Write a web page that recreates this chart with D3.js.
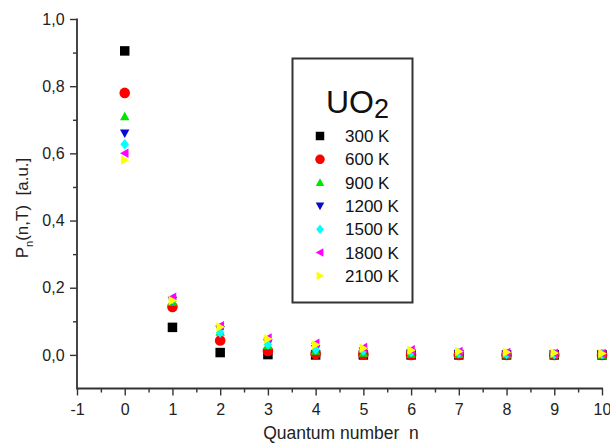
<!DOCTYPE html>
<html><head><meta charset="utf-8">
<script src="https://cdn.jsdelivr.net/npm/d3@7"></script>
<style>body{margin:0;background:#fff}svg{display:block}text{font-family:"Liberation Sans",Arial,sans-serif}</style>
</head><body>
<svg id="c" width="610" height="443"></svg>
<script>
const quantumN = [0,1,2,3,4,5,6,7,8,9,10];
const seriesNames = ["300 K","600 K","900 K","1200 K","1500 K","1800 K","2100 K"];
const p300  = [0.905,0.082,0.007,0.001,0.000,0.000,0.000,0.000,0.000,0.000,0.000];
const p600  = [0.780,0.143,0.043,0.012,0.003,0.001,0.000,0.000,0.000,0.000,0.000];
const p900  = [0.710,0.158,0.068,0.028,0.012,0.006,0.003,0.002,0.001,0.001,0.000];
const p1200 = [0.660,0.162,0.075,0.035,0.018,0.010,0.006,0.004,0.002,0.002,0.001];
const p1500 = [0.627,0.165,0.066,0.031,0.016,0.012,0.008,0.005,0.003,0.002,0.002];
const p1800 = [0.600,0.172,0.087,0.050,0.035,0.022,0.015,0.010,0.007,0.005,0.004];
const p2100 = [0.580,0.162,0.083,0.047,0.030,0.020,0.014,0.010,0.008,0.006,0.004];
const xTicks = [-1,0,1,2,3,4,5,6,7,8,9,10];
const yTicks = [0,0.2,0.4,0.6,0.8,1.0];

const seriesVals = [p300,p600,p900,p1200,p1500,p1800,p2100];
const colors = ["#000000","#ff0000","#00e600","#0a0ad0","#00ffff","#ff00ff","#ffff00"];
const shapes = ["square","circle","up","down","diamond","left","right"];

const svg = d3.select("#c");
const x = d3.scaleLinear().domain([-1,10]).range([77,602]);
const y = d3.scaleLinear().domain([-0.1,1.0]).range([388.5,19]);
const fmt = d => d3.format(".1f")(d).replace(".",",");

function markerPath(shape, s){
  const h=s/2;
  switch(shape){
    case "square": return `M${-h},${-h}h${s}v${s}h${-s}Z`;
    case "circle": return d3.symbol(d3.symbolCircle, Math.PI*h*h*1.25)();
    case "up": return `M0,${-h}L${h},${h*0.8}L${-h},${h*0.8}Z`;
    case "down": return `M0,${h}L${h},${-h*0.8}L${-h},${-h*0.8}Z`;
    case "diamond": return `M0,${-h*1.1}L${h*0.9},0L0,${h*1.1}L${-h*0.9},0Z`;
    case "left": return `M${-h},0L${h*0.8},${-h}L${h*0.8},${h}Z`;
    case "right": return `M${h},0L${-h*0.8},${-h}L${-h*0.8},${h}Z`;
  }
}

// axes
const axCol="#333";
const gx = svg.append("g").attr("transform","translate(0,388.5)")
  .call(d3.axisBottom(x).tickValues(xTicks).tickFormat(d=>String(d)).tickSize(7).tickSizeOuter(0));
const gxm = svg.append("g").attr("transform","translate(0,388.5)")
  .call(d3.axisBottom(x).tickValues(d3.range(-0.5,10,1)).tickFormat("").tickSize(4).tickSizeOuter(0));
const gy = svg.append("g").attr("transform","translate(77,0)")
  .call(d3.axisLeft(y).tickValues(yTicks).tickFormat(fmt).tickSize(7).tickSizeOuter(0));
const gym = svg.append("g").attr("transform","translate(77,0)")
  .call(d3.axisLeft(y).tickValues([0.1,0.3,0.5,0.7,0.9]).tickFormat("").tickSize(4).tickSizeOuter(0));
[gx,gxm,gy,gym].forEach(g=>{
  g.selectAll("path.domain").remove();
  g.selectAll(".tick line").attr("stroke",axCol).attr("stroke-width",1.4);
  g.selectAll("text").attr("fill","#222").style("font-size","16px");
});
gx.selectAll("text").attr("dy","1.0em");
gy.selectAll("text").attr("dx","-0.15em");
svg.append("line").attr("x1",77).attr("x2",603).attr("y1",388.5).attr("y2",388.5).attr("stroke",axCol).attr("stroke-width",1.8);
svg.append("line").attr("x1",77).attr("x2",77).attr("y1",18.5).attr("y2",389.4).attr("stroke",axCol).attr("stroke-width",1.8);

// points
seriesVals.forEach((vals,i)=>{
  svg.append("g").selectAll("path").data(quantumN.map((n,j)=>({n,v:vals[j]}))).join("path")
    .attr("d", markerPath(shapes[i], 9.5))
    .attr("transform", d=>`translate(${x(d.n)},${y(d.v)})`)
    .attr("fill", colors[i]);
});

// legend
svg.append("rect").attr("x",292.5).attr("y",58.5).attr("width",120).attr("height",244)
  .attr("fill","#fff").attr("stroke","#333").attr("stroke-width",2);
const title = svg.append("text").attr("x",326).attr("y",113).attr("fill","#111").style("font-size","32px");
title.append("tspan").text("UO");
title.append("tspan").attr("dy",5).style("font-size","27px").text("2");
seriesNames.forEach((name,i)=>{
  const yy = 136 + i*23.3;
  svg.append("path").attr("d",markerPath(shapes[i],8.5)).attr("transform",`translate(320,${yy})`).attr("fill",colors[i]);
  svg.append("text").attr("x",345).attr("y",yy+6).attr("fill","#111").style("font-size","17px").text(name);
});

// axis titles
svg.append("text").attr("x",341).attr("y",439).attr("text-anchor","middle").attr("fill","#222")
  .style("font-size","17.5px").attr("xml:space","preserve").text("Quantum number  n");
const yt = svg.append("text").attr("transform","translate(28,208) rotate(-90)").attr("text-anchor","middle")
  .attr("fill","#222").style("font-size","17px").attr("xml:space","preserve");
yt.append("tspan").text("P");
yt.append("tspan").attr("dy",5).style("font-size","11px").text("n");
yt.append("tspan").attr("dy",-5).text("(n,T)  [a.u.]");
</script>
</body></html>
